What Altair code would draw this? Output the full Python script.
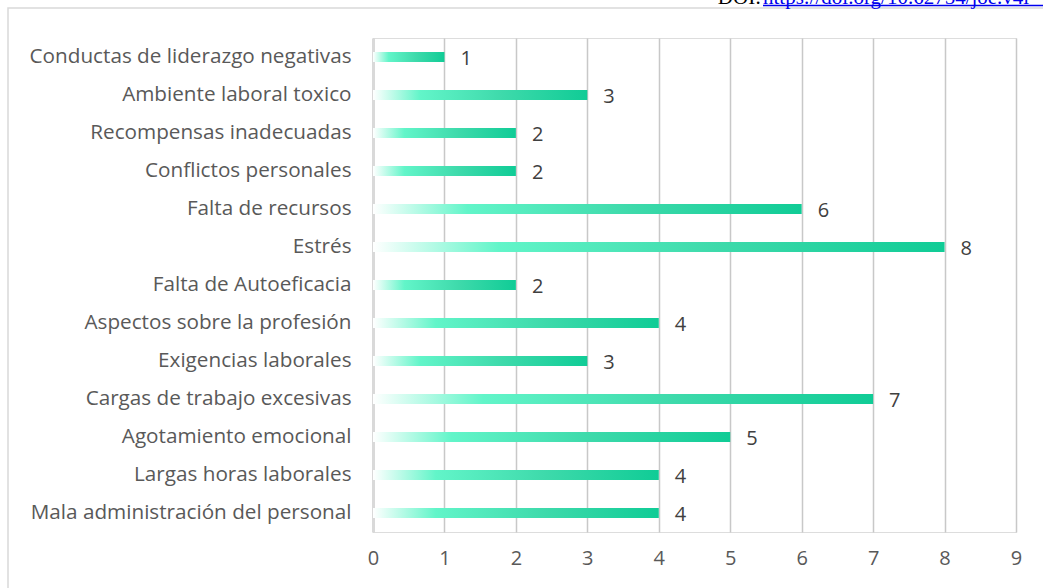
import altair as alt
import pandas as pd

categories = [
    "Conductas de liderazgo negativas",
    "Ambiente laboral toxico",
    "Recompensas inadecuadas",
    "Conflictos personales",
    "Falta de recursos",
    "Estrés",
    "Falta de Autoeficacia",
    "Aspectos sobre la profesión",
    "Exigencias laborales",
    "Cargas de trabajo excesivas",
    "Agotamiento emocional",
    "Largas horas laborales",
    "Mala administración del personal",
]
values = [1, 3, 2, 2, 6, 8, 2, 4, 3, 7, 5, 4, 4]
x_ticks = [0, 1, 2, 3, 4, 5, 6, 7, 8, 9]
doi_prefix = "DOI: "
doi_link = "https://doi.org/10.62754/joe.v4i"

df = pd.DataFrame({"cat": categories, "val": values})

W, H = 643, 494
FONT = "Open Sans"
FS = 20.7
FS2 = 20

y_enc = alt.Y(
    "cat:N",
    sort=categories,
    title=None,
    scale=alt.Scale(paddingInner=0.737, paddingOuter=0.368),
    axis=alt.Axis(
        labelFont=FONT, labelFontSize=FS, labelColor="#595959", labelPadding=22,
        ticks=False, domain=True, domainColor="#d9d9d9", domainWidth=3,
        labelLimit=400,
    ),
)
x_enc = alt.X(
    "val:Q",
    title=None,
    scale=alt.Scale(domain=[0, 9], nice=False, zero=True),
    axis=alt.Axis(
        values=x_ticks, format="d", grid=True, gridColor="#c8c8c8", gridWidth=1.5,
        domain=False, ticks=False, labelFont=FONT, labelFontSize=FS2,
        labelColor="#595959", labelPadding=16, labelFlush=False,
    ),
)

grad = alt.Gradient(
    gradient="linear",
    x1=0, x2=1, y1=0, y2=0,
    stops=[
        alt.GradientStop(color="#ffffff", offset=0),
        alt.GradientStop(color="#62f5c9", offset=0.22),
        alt.GradientStop(color="#3edaab", offset=0.6),
        alt.GradientStop(color="#10cc96", offset=1),
    ],
)

bars = alt.Chart(df).mark_bar(color=grad, cornerRadius=0).encode(x=x_enc, y=y_enc)

labels = alt.Chart(df).mark_text(
    align="left", baseline="middle", dx=16, dy=2, font=FONT, fontSize=FS2, color="#404040"
).encode(x="val:Q", y=alt.Y("cat:N", sort=categories), text="val:Q")

frame_df = pd.DataFrame({"a": [0]})
frame = alt.Chart(frame_df).mark_rect(
    fill=None, stroke="#d9d9d9", strokeWidth=1.5, clip=False
).encode(
    x=alt.value(-365), x2=alt.value(W + 60),
    y=alt.value(-30), y2=alt.value(H + 120),
)

doi_df = pd.DataFrame({"a": [0]})
doi1 = alt.Chart(doi_df).mark_text(
    align="right", baseline="alphabetic", font="Liberation Serif", fontSize=21, color="#000000"
).encode(x=alt.value(388), y=alt.value(-34), text=alt.value(doi_prefix))
doi2 = alt.Chart(doi_df).mark_text(
    align="left", baseline="alphabetic", font="Liberation Serif", fontSize=21, color="#0000ee"
).encode(x=alt.value(390), y=alt.value(-34), text=alt.value(doi_link))
doi_line = alt.Chart(doi_df).mark_rule(color="#0000ee", strokeWidth=1.5).encode(
    x=alt.value(390), x2=alt.value(W + 40), y=alt.value(-32.5)
)

chart = alt.layer(frame, bars, labels, doi1, doi2, doi_line).properties(
    width=W, height=H,
    padding={"left": 373, "top": 38, "right": 27, "bottom": 56},
    autosize=alt.AutoSizeParams(type="none"),
).configure_view(stroke=None).configure(background="white")

chart.save("out.html", embed_options={"renderer": "svg", "actions": False})
